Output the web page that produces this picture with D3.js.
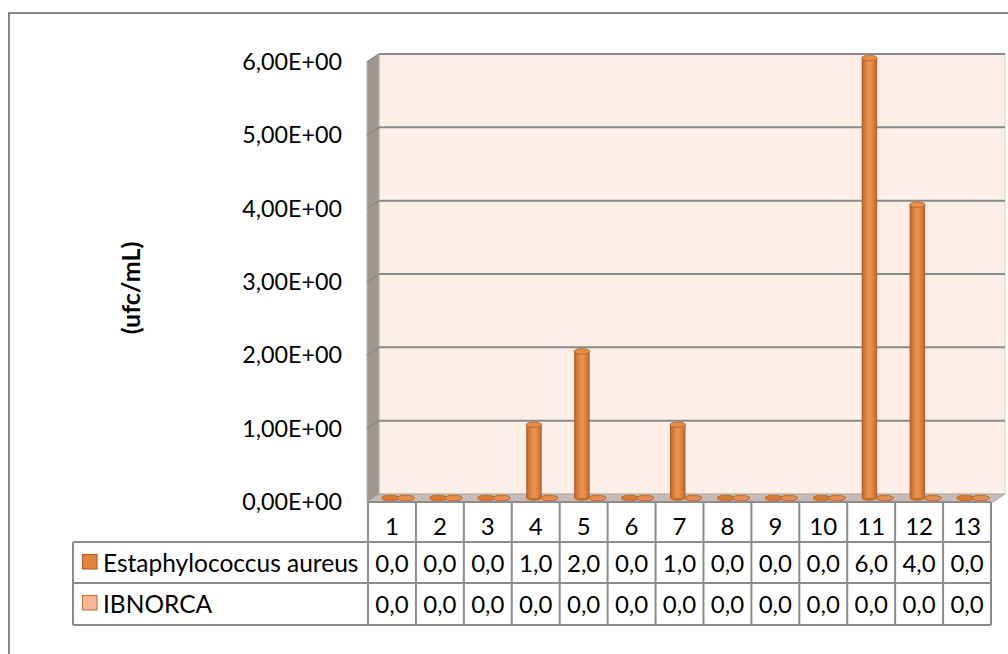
<!DOCTYPE html>
<html>
<head>
<meta charset="utf-8">
<script src="https://cdn.jsdelivr.net/npm/d3@7"></script>
<style>
  html, body { margin: 0; padding: 0; background: #fff; }
  svg { display: block; }
  text { font-family: Lato, "Open Sans", sans-serif; fill: #000; }
</style>
</head>
<body>
<svg id="chart" width="1008" height="654"></svg>
<script>
// Sample numbers (columns of the data table)
const categories = ["1","2","3","4","5","6","7","8","9","10","11","12","13"];
// Series names and values, ufc/mL
const seriesNames = ["Estaphylococcus aureus", "IBNORCA"];
const staphValues = [0, 0, 0, 1, 2, 0, 1, 0, 0, 0, 6, 4, 0];
const ibnorcaValues = [0, 0, 0, 0, 0, 0, 0, 0, 0, 0, 0, 0, 0];
const yTicks = [0, 1, 2, 3, 4, 5, 6];
const yTitle = "(ufc/mL)";

const series = [
  { name: seriesNames[0], values: staphValues, key: "#E0843E", keyStroke: "#B5652D", disk: "#D97A32", diskStroke: "#C06A2B" },
  { name: seriesNames[1], values: ibnorcaValues, key: "#F8B994", keyStroke: "#C57A45", disk: "#E38F50", diskStroke: "#C46A28" }
];

const svg = d3.select("#chart");
const defs = svg.append("defs");

// 3D depth of the plot box (back wall is shifted right/up)
const depthX = 12, depthY = -8;

// Front-plane scales; the table columns share the x band scale
const x = d3.scaleBand().domain(categories).range([368, 991]).paddingInner(0).paddingOuter(0);
const y = d3.scaleLinear().domain([0, 6]).range([502, 62]);
const sx = d3.scaleBand().domain(seriesNames).range([-15.5, 15.5]);

const fmtExp = v => {
  const [m, e] = v.toExponential(2).split("e");
  const sign = e[0] === "-" ? "-" : "+";
  const digits = e.replace(/^[+-]/, "").padStart(2, "0");
  return m.replace(".", ",") + "E" + sign + digits;
};
const fmtVal = v => v.toFixed(1).replace(".", ",");

// Outer chart border
svg.append("rect")
  .attr("x", 9).attr("y", 13).attr("width", 1010).attr("height", 660)
  .attr("fill", "#fff").attr("stroke", "#878787").attr("stroke-width", 2);

const x0 = x.range()[0] - 1, x1 = x.range()[1] + 2;
const yTop = y(6), yBot = y(0);

// Back wall
svg.append("rect")
  .attr("x", x0 + depthX).attr("y", yTop + depthY)
  .attr("width", x1 - x0).attr("height", yBot - yTop)
  .attr("fill", "#FDEEE7").attr("stroke", "#D9D2CE").attr("stroke-width", 1);

// Side wall
svg.append("polygon")
  .attr("points", [[x0, yTop], [x0 + depthX, yTop + depthY], [x0 + depthX, yBot + depthY], [x0, yBot]].join(" "))
  .attr("fill", "#A1968F").attr("stroke", "#B9B1AC").attr("stroke-width", 1);

// Floor
svg.append("polygon")
  .attr("points", [[x0, yBot], [x0 + depthX, yBot + depthY], [x1 + depthX, yBot + depthY], [x1, yBot]].join(" "))
  .attr("fill", "#C6BBB6").attr("stroke", "#AFA7A2").attr("stroke-width", 1);

// Gridlines on back wall and side wall
const grid = svg.append("g");
yTicks.filter(t => t > 0).forEach(t => {
  const yf = y(t), yb = y(t) + depthY;
  grid.append("line")
    .attr("x1", x0 + depthX).attr("x2", x1 + depthX).attr("y1", yb).attr("y2", yb)
    .attr("stroke", "#8A8A8A").attr("stroke-width", 2);
  grid.append("line")
    .attr("x1", x0).attr("x2", x0 + depthX).attr("y1", yf).attr("y2", yb)
    .attr("stroke", "#8A8A8A").attr("stroke-width", 1.5);
});

// Y axis labels
svg.append("g").selectAll("text").data(yTicks).join("text")
  .attr("x", 342).attr("y", d => y(d))
  .attr("dy", "0.35em")
  .attr("text-anchor", "end")
  .style("font-size", "23.3px")
  .text(fmtExp);

// Y axis title
svg.append("text")
  .attr("transform", "translate(131,288) rotate(-90)")
  .attr("text-anchor", "middle").attr("dy", "0.35em")
  .style("font-size", "25px").style("font-weight", "bold")
  .text(yTitle);

// Cylinder shading
const grad = defs.append("linearGradient").attr("id", "cyl").attr("x1", "0").attr("x2", "1").attr("y1", "0").attr("y2", "0");
[["0%", "#A65A24"], ["14%", "#CF7431"], ["45%", "#EE934F"], ["60%", "#EB8E4A"], ["88%", "#CC7232"], ["100%", "#A65A24"]]
  .forEach(([o, c]) => grad.append("stop").attr("offset", o).attr("stop-color", c));

// Bars (cylinders) at mid depth
const mx = depthX / 2, my = depthY / 2;
const barW = sx.bandwidth();
const rx = barW / 2, ry = 2.8;
const bars = svg.append("g");
series.forEach(s => {
  s.values.forEach((v, i) => {
    const cx = x(categories[i]) + x.bandwidth() / 2 + mx + sx(s.name) + barW / 2;
    const yb = y(0) + my, yt = y(v) + my;
    const g = bars.append("g");
    if (v > 0) {
      g.append("ellipse").attr("cx", cx).attr("cy", yb).attr("rx", rx).attr("ry", ry).attr("fill", "#C46D2E");
      g.append("rect").attr("x", cx - rx).attr("y", yt).attr("width", barW).attr("height", yb - yt).attr("fill", "url(#cyl)");
      g.append("ellipse").attr("cx", cx).attr("cy", yt).attr("rx", rx).attr("ry", ry)
        .attr("fill", "#E48C48").attr("stroke", "#B4652C").attr("stroke-width", 0.8);
    } else {
      g.append("ellipse").attr("cx", cx).attr("cy", yb).attr("rx", rx + 0.8).attr("ry", ry)
        .attr("fill", s.disk).attr("stroke", s.diskStroke).attr("stroke-width", 1);
    }
  });
});

// Data table
const rowTop = [502, 542, 583, 625];
const legX0 = 73;
const table = svg.append("g");
const lineStyle = sel => sel.attr("stroke", "#8C8C8C").attr("stroke-width", 2);

// horizontal lines
table.append("line").call(lineStyle).attr("x1", x.range()[0]).attr("x2", x.range()[1]).attr("y1", rowTop[0]).attr("y2", rowTop[0]);
[1, 2, 3].forEach(r => {
  table.append("line").call(lineStyle).attr("x1", legX0).attr("x2", x.range()[1]).attr("y1", rowTop[r]).attr("y2", rowTop[r]);
});
// vertical lines
categories.concat(["end"]).forEach((c, i) => {
  const xv = i < categories.length ? x(c) : x.range()[1];
  table.append("line").call(lineStyle).attr("x1", xv).attr("x2", xv).attr("y1", rowTop[0]).attr("y2", rowTop[3]);
});
table.append("line").call(lineStyle).attr("x1", legX0).attr("x2", legX0).attr("y1", rowTop[1]).attr("y2", rowTop[3]);

// header numbers
table.append("g").selectAll("text").data(categories).join("text")
  .attr("x", d => x(d) + x.bandwidth() / 2).attr("y", 535)
  .attr("text-anchor", "middle").style("font-size", "24px")
  .text(d => d);

// series rows
const rowBase = [572, 613];
series.forEach((s, r) => {
  table.append("rect")
    .attr("x", 82.5).attr("y", rowBase[r] - 17.5).attr("width", 14.5).attr("height", 14.5)
    .attr("fill", s.key).attr("stroke", s.keyStroke).attr("stroke-width", 1.2);
  table.append("text").attr("x", 103).attr("y", rowBase[r])
    .style("font-size", "24.5px").text(s.name);
  table.append("g").selectAll("text").data(s.values).join("text")
    .attr("x", (d, i) => x(categories[i]) + x.bandwidth() / 2).attr("y", rowBase[r])
    .attr("text-anchor", "middle").style("font-size", "24px")
    .text(fmtVal);
});
</script>
</body>
</html>
